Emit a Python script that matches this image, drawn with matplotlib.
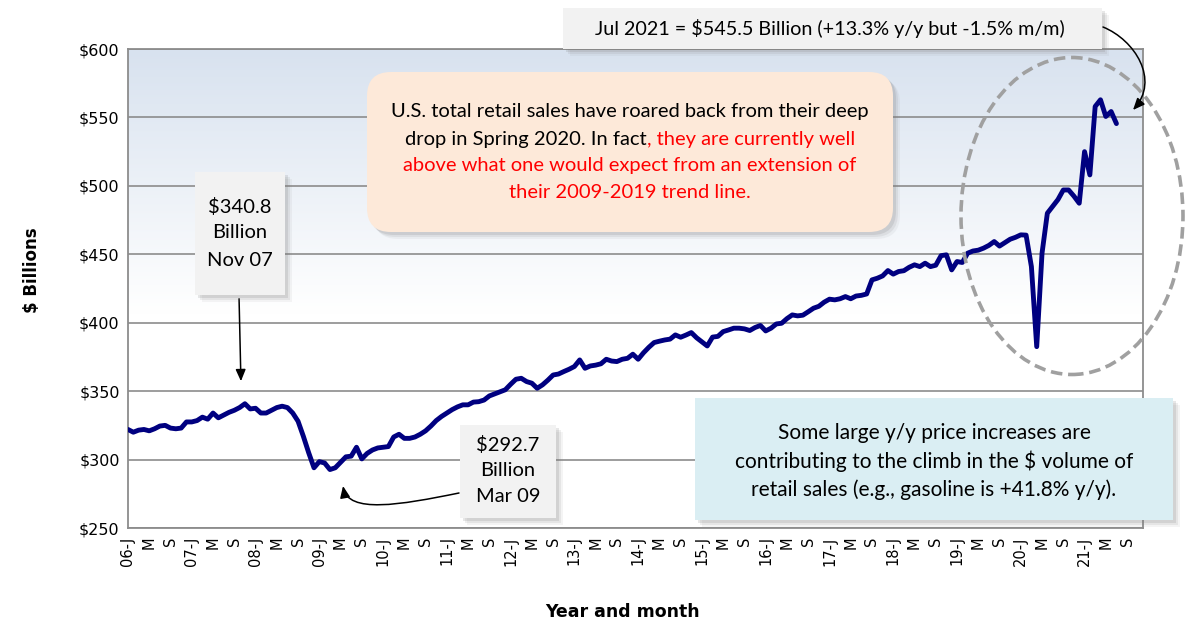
import matplotlib
matplotlib.use('Agg')
import matplotlib.pyplot as plt
import numpy as np
from matplotlib.patches import FancyBboxPatch, Ellipse, FancyArrowPatch
from matplotlib.path import Path
from matplotlib.colors import LinearSegmentedColormap
from matplotlib.transforms import IdentityTransform

# ---------------- data (US retail sales, $ billions, monthly from Jan 2006) ----------------
v2006 = [322, 320, 321.5, 322, 321, 322.5, 324.5, 325, 323, 322.5, 323, 327.5]
v2007 = [327.5, 328.5, 331, 329.5, 334, 330.5, 332.5, 334.5, 336, 338, 340.8, 337]
v2008 = [337.5, 334, 334, 336, 338, 339, 338, 334, 328, 317, 305, 294]
v2009 = [298.5, 297.5, 292.7, 294, 298, 302, 302.5, 309, 300.5, 304.5, 307, 308.5]
v2010 = [309, 309.5, 316.5, 318.5, 315.5, 315.5, 316.5, 318.5, 321, 324.5, 328.5, 331.5]
v2011 = [334, 336.5, 338.5, 340, 340, 342, 342.3, 343.5, 346.5, 348, 349.5, 351]
v2012 = [355, 358.7, 359.4, 357, 355.8, 352.1, 354.6, 358, 361.8, 362.5, 364.3, 366]
v2013 = [368, 372.8, 366.7, 368.4, 369, 370, 373.3, 372, 371.6, 373.3, 374, 377]
v2014 = [373.3, 378, 382, 385.5, 386.5, 387.4, 388, 391.1, 389.4, 391, 392.8, 389]
v2015 = [386, 383, 389.5, 390, 393.5, 394.7, 396, 396, 395.5, 394.3, 396.5, 398]
v2016 = [394, 396, 399.1, 399.6, 403, 405.7, 405, 405.5, 408, 410.6, 412, 415]
v2017 = [417.2, 416.7, 417.5, 419.1, 417.5, 419.5, 420, 421, 431.3, 432.5, 434.2, 438.1]
v2018 = [435.5, 437.4, 438, 440.5, 442.3, 441, 443.5, 441, 442, 449, 449.6, 438.6]
v2019 = [444.7, 444, 450.8, 452.4, 453, 454.5, 456.5, 459.3, 456, 458.5, 461, 462.4]
v2020 = [464.2, 464, 441, 382.5, 450.8, 480, 485, 490, 497, 497, 492.5, 487.3]
v2021 = [525, 508, 558, 562.9, 550.7, 554.3, 545.5]

values = (v2006 + v2007 + v2008 + v2009 + v2010 + v2011 + v2012 + v2013 + v2014 +
          v2015 + v2016 + v2017 + v2018 + v2019 + v2020 + v2021)

years = ['06', '07', '08', '09', '10', '11', '12', '13', '14', '15', '16', '17', '18', '19', '20', '21']
tick_labels = []
for yr in years:
    tick_labels += [yr + '-J', 'M', 'S']
y_ticks = [250, 300, 350, 400, 450, 500, 550, 600]
y_tick_labels = ['$' + str(v) for v in y_ticks]
n_categories = 192  # Jan 2006 .. Dec 2021

# ---------------- figure ----------------
W, H = 1200, 634
fig = plt.figure(figsize=(W / 100, H / 100), dpi=100)
ax = fig.add_axes([128 / W, 1 - 528 / H, (1143 - 128) / W, (528 - 49) / H])

# gradient background
grad = np.linspace(0, 1, 256).reshape(-1, 1)
cmap = LinearSegmentedColormap.from_list('g', [(0, '#d8e2ef'), (0.55, '#ffffff'), (1, '#ffffff')])
ax.imshow(grad, extent=[0, 1, 0, 1], transform=ax.transAxes, aspect='auto', cmap=cmap,
          origin='upper', interpolation='bilinear', zorder=0)

x = np.arange(len(values))
ax.plot(x, values, color='#000080', lw=3.5, solid_joinstyle='round', solid_capstyle='round', zorder=3)

ax.set_xlim(0, n_categories - 1)
ax.set_ylim(250, 600)
ax.set_yticks(y_ticks)
ax.set_yticklabels(y_tick_labels, fontsize=11.5, family='DejaVu Sans')
tick_pos = np.arange(0, 4 * len(tick_labels), 4)
ax.set_xticks(tick_pos)
ax.set_xticklabels(tick_labels, rotation=90, fontsize=10.5, family='DejaVu Sans')
ax.tick_params(length=0, pad=6)
ax.set_axisbelow(True)
ax.yaxis.grid(True, color='#8c8c8c', lw=1.2)
for s in ax.spines.values():
    s.set_color('#8c8c8c')
    s.set_linewidth(1.3)

fig.text(32 / W, 1 - 270 / H, '$ Billions', rotation=90, ha='center', va='center',
         fontsize=12, fontweight='bold', family='DejaVu Sans')
fig.text(623 / W, 1 - 612 / H, 'Year and month', ha='center', va='center',
         fontsize=12.5, fontweight='bold', family='DejaVu Sans')

PX = IdentityTransform()
FONT = ['Lato', 'DejaVu Sans']


def box(x0, y0, x1, y1, fc, rad=0.0, ec='none'):
    w, h = x1 - x0, y1 - y0
    style = 'round,pad=0,rounding_size=%g' % rad if rad > 0 else 'square,pad=0'
    for off, a in [(7, 0.08), (5, 0.12), (3, 0.18)]:
        sh = FancyBboxPatch((x0 + off, H - y1 - off), w, h, boxstyle=style, transform=PX,
                            fc='#7f7f7f', ec='none', alpha=a, zorder=4)
        fig.add_artist(sh)
    p = FancyBboxPatch((x0, H - y1), w, h, boxstyle=style, transform=PX, fc=fc, ec=ec,
                       lw=0.8, zorder=5)
    fig.add_artist(p)


def txt(xc, yc, s, color='black', size=14.5, ha='center'):
    return fig.text(xc, H - yc, s, transform=PX, ha=ha, va='center', fontsize=size,
                    color=color, family=FONT, zorder=6)


def curved_arrow(pts):
    # pts: 4 bezier points in pixel coords (top-left origin)
    verts = [(px, H - py) for px, py in pts]
    path = Path(verts, [Path.MOVETO, Path.CURVE4, Path.CURVE4, Path.CURVE4])
    a = FancyArrowPatch(path=path, arrowstyle='-|>,head_length=0.7,head_width=0.3',
                        mutation_scale=10, color='black', lw=1.1, transform=PX, zorder=6)
    fig.add_artist(a)


# dashed ellipse
ell = Ellipse((1072, H - 216), 222, 317, transform=PX, fill=False, ec='#a0a0a0', lw=2.6,
              ls=(0, (3.2, 1.6)), zorder=4)
fig.add_artist(ell)

ARROW = dict(arrowstyle='-|>,head_length=0.7,head_width=0.3', color='black', lw=1.1)

# Nov 07 callout
box(195, 172, 285, 295, '#f2f2f2')
txt(240, 207, '$340.8')
txt(240, 233, 'Billion')
txt(240, 260, 'Nov 07')
ax.annotate('', xy=(241, H - 384), xytext=(239, H - 296), xycoords='figure pixels',
            textcoords='figure pixels', annotation_clip=False, arrowprops=dict(ARROW))

# Mar 09 callout
box(460, 425, 556, 518, '#f2f2f2')
txt(508, 445, '$292.7')
txt(508, 471, 'Billion')
txt(508, 497, 'Mar 09')
curved_arrow([(459, 493), (400, 505), (348, 514), (343, 486)])

# Peach box
box(367, 72, 893, 232, '#fde9d9', rad=24)
cx = 630
txt(cx, 112, 'U.S. total retail sales have roared back from their deep')
p1 = 'drop in Spring 2020. In fact'
p2 = ', they are currently well'
t1 = txt(0, 139, p1, ha='left')
t2 = txt(0, 139, p2, color='#ff0000', ha='left')
r = fig.canvas.get_renderer()
w1 = t1.get_window_extent(r).width
w2 = t2.get_window_extent(r).width
start = cx - (w1 + w2) / 2
t1.set_x(start)
t2.set_x(start + w1)
txt(cx, 166, 'above what one would expect from an extension of', color='#ff0000')
txt(cx, 193, 'their 2009-2019 trend line.', color='#ff0000')

# Blue box
box(695, 398, 1173, 520, '#daeef3')
bx = 934
txt(bx, 433, 'Some large y/y price increases are', size=15)
txt(bx, 461, 'contributing to the climb in the $ volume of', size=15)
txt(bx, 490, 'retail sales (e.g., gasoline is +41.8% y/y).', size=15)

# Top box
box(563, 8, 1102, 49, '#f2f2f2')
txt(830, 28, 'Jul 2021 = $545.5 Billion (+13.3% y/y but -1.5% m/m)', size=14.2)
curved_arrow([(1103, 27), (1135, 40), (1160, 80), (1133, 110)])

fig.savefig('out.png', dpi=100)
